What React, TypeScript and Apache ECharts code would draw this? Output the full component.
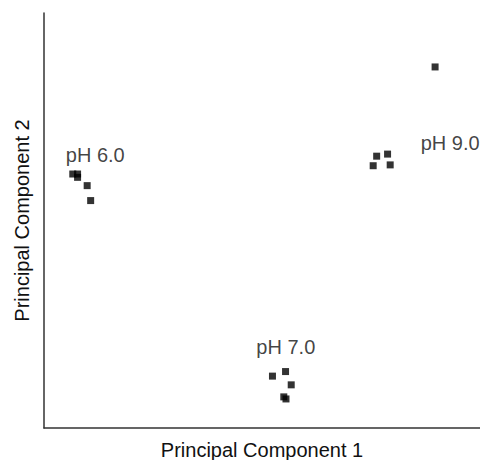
import React, { useEffect, useRef } from "react";
import * as echarts from "echarts";

const ph6: [number, number][] = [
  [6.6, 61.2],
  [7.7, 61.2],
  [7.7, 60.4],
  [9.9, 58.4],
  [10.7, 54.8],
];
const ph7: [number, number][] = [
  [52.4, 12.5],
  [55.4, 13.6],
  [56.7, 10.4],
  [55.0, 7.5],
  [55.5, 7.0],
];
const ph9: [number, number][] = [
  [89.7, 87.0],
  [76.3, 65.5],
  [78.8, 66.0],
  [75.5, 63.2],
  [79.4, 63.4],
];
const groupLabels = ["pH 6.0", "pH 7.0", "pH 9.0"];
const labelAnchors: [number, number][] = [
  [5.0, 65.8],
  [48.7, 19.5],
  [86.4, 68.7],
];
const xName = "Principal Component 1";
const yName = "Principal Component 2";

const FONT = "'Liberation Sans', Arial, sans-serif";

export default function App() {
  const ref = useRef<HTMLDivElement>(null);
  useEffect(() => {
    if (!ref.current) return;
    const chart = echarts.init(ref.current, undefined, { renderer: "svg" });
    const pointStyle = { color: "#000" };
    const mkSeries = (data: [number, number][]) => ({
      type: "scatter",
      symbol: "rect",
      symbolSize: 7,
      itemStyle: pointStyle,
      data,
      silent: true,
    });
    chart.setOption({
      animation: false,
      backgroundColor: "#fff",
      textStyle: { fontFamily: FONT },
      grid: {
        left: 44,
        right: 0,
        top: 13,
        bottom: 32,
        containLabel: false,
        outerBoundsMode: "none",
      },
      xAxis: {
        type: "value",
        min: 0,
        max: 100,
        name: xName,
        nameLocation: "middle",
        nameGap: 12,
        nameTextStyle: { fontSize: 20, color: "#111", fontFamily: FONT },
        axisLine: { show: true, lineStyle: { color: "#333", width: 1.5 } },
        axisTick: { show: false },
        axisLabel: { show: false },
        splitLine: { show: false },
      },
      yAxis: {
        type: "value",
        min: 0,
        max: 100,
        name: yName,
        nameLocation: "middle",
        nameGap: 12,
        nameRotate: 90,
        nameTextStyle: { fontSize: 20, color: "#111", fontFamily: FONT },
        axisLine: { show: true, lineStyle: { color: "#333", width: 1.5 } },
        axisTick: { show: false },
        axisLabel: { show: false },
        splitLine: { show: false },
      },
      series: [
        mkSeries(ph6),
        mkSeries(ph7),
        mkSeries(ph9),
        {
          type: "scatter",
          symbolSize: 0,
          silent: true,
          data: labelAnchors.map((p, i) => ({ value: p, name: groupLabels[i] })),
          label: {
            show: true,
            position: [0, 0],
            align: "left",
            verticalAlign: "middle",
            formatter: (p: any) => p.name,
            fontSize: 20,
            color: "#111",
            fontFamily: FONT,
          },
        },
      ],
    });
    return () => chart.dispose();
  }, []);
  return (
    <div
      ref={ref}
      style={{ position: "absolute", left: 0, top: 0, width: 480, height: 460 }}
    />
  );
}
